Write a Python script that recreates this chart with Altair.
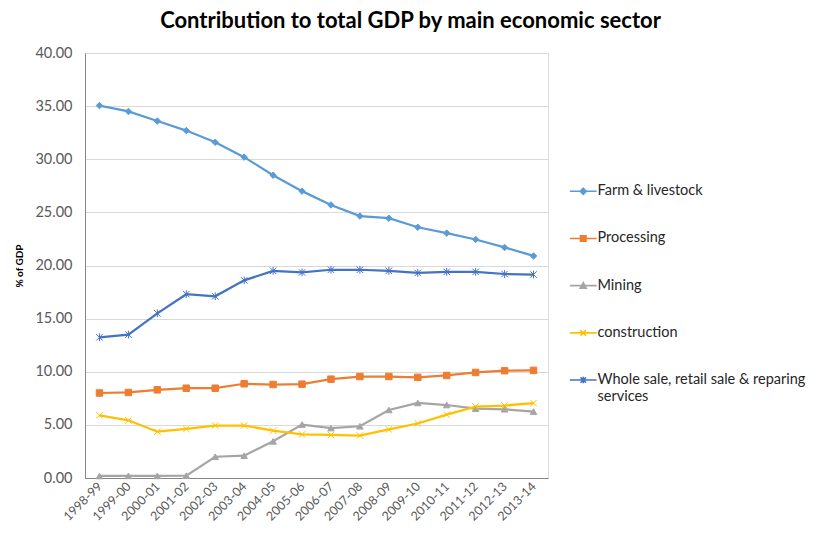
import altair as alt
import pandas as pd

years = ["1998-99", "1999-00", "2000-01", "2001-02", "2002-03", "2003-04", "2004-05", "2005-06",
         "2006-07", "2007-08", "2008-09", "2009-10", "2010-11", "2011-12", "2012-13", "2013-14"]
farm = [35.05, 34.5, 33.6, 32.7, 31.6, 30.2, 28.5, 27.0, 25.7, 24.65, 24.45, 23.6, 23.05, 22.45, 21.7, 20.9]
processing = [8.0, 8.05, 8.3, 8.45, 8.45, 8.87, 8.8, 8.83, 9.3, 9.55, 9.55, 9.47, 9.65, 9.93, 10.1, 10.13]
mining = [0.19, 0.2, 0.2, 0.22, 2.0, 2.1, 3.45, 5.03, 4.7, 4.87, 6.4, 7.06, 6.87, 6.53, 6.47, 6.25]
construction = [5.9, 5.43, 4.36, 4.62, 4.94, 4.94, 4.46, 4.1, 4.05, 4.0, 4.57, 5.13, 5.97, 6.72, 6.82, 7.05]
wholesale = [13.24, 13.5, 15.5, 17.3, 17.1, 18.6, 19.5, 19.35, 19.6, 19.6, 19.5, 19.3, 19.4, 19.4, 19.2, 19.15]

series_names = ["Farm & livestock", "Processing", "Mining", "construction",
                "Whole sale, retail sale & reparing services"]
series_values = [farm, processing, mining, construction, wholesale]
colors = ["#5B9BD5", "#ED7D31", "#A5A5A5", "#FFC000", "#4472C4"]
marker_shapes = ["diamond", "square", "triangle-up",
                 "M-1,-1L1,1M-1,1L1,-1",
                 "M-1,-1L1,1M-1,1L1,-1M0,-1.2L0,1.2"]
legend_shapes = ["M-4.9,0H4.9M0,-1.1L1.1,0L0,1.1L-1.1,0Z",
                 "M-4.9,0H4.9M-1,-1H1V1H-1Z",
                 "M-4.9,0H4.9M0,-1.1L1.1,0.9H-1.1Z",
                 "M-4.9,0H4.9M-1,-1L1,1M-1,1L1,-1",
                 "M-4.9,0H4.9M-1,-1L1,1M-1,1L1,-1M0,-1.2L0,1.2"]

rows = []
for name, vals in zip(series_names, series_values):
    for yr, v in zip(years, vals):
        rows.append({"year": yr, "series": name, "value": v})
df = pd.DataFrame(rows)

FONT = "Lato"

x_enc = alt.X("year:N", sort=years, title=None,
              axis=alt.Axis(labelAngle=-45, labelAlign="right", labelBaseline="middle",
                            ticks=False, grid=False, labelFontSize=12.5, labelPadding=6,
                            labelColor="#595959", labelFont=FONT, domainColor="#868686"))
y_enc = alt.Y("value:Q", scale=alt.Scale(domain=[0, 40]),
              axis=alt.Axis(values=[0, 5, 10, 15, 20, 25, 30, 35, 40], format=".2f",
                            title="% of GDP", titleFontSize=10, titleFontWeight="bold",
                            titleColor="#000000", titleFont=FONT, titlePadding=10,
                            labelFontSize=14.5, labelColor="#595959", labelFont=FONT,
                            ticks=False, labelPadding=13, domainColor="#868686",
                            gridColor="#D9D9D9"))

cscale = alt.Scale(domain=series_names, range=colors)

lines = alt.Chart(df).mark_line(strokeWidth=2.25).encode(
    x=x_enc, y=y_enc,
    color=alt.Color("series:N", scale=cscale, legend=None),
)

points = alt.Chart(df).mark_point(filled=True, size=42, strokeWidth=1, opacity=1).encode(
    x=x_enc, y=y_enc,
    color=alt.Color("series:N", scale=cscale, legend=None),
    stroke=alt.Stroke("series:N", scale=cscale, legend=None),
    shape=alt.Shape("series:N", scale=alt.Scale(domain=series_names, range=marker_shapes), legend=None),
)

legend_layer = alt.Chart(df).transform_filter("datum.value < -1000").mark_point(
    filled=True, opacity=1, strokeWidth=1.6
).encode(
    x=x_enc, y=y_enc,
    color=alt.Color("series:N", scale=cscale, legend=alt.Legend(
        title=None, orient="none", legendX=491, legendY=131, padding=0,
        labelFontSize=14.5, labelFont=FONT, labelColor="#262626", labelOffset=7,
        labelLimit=400, rowPadding=32.2, symbolSize=30, symbolStrokeWidth=1.6,
        symbolOpacity=1,
        labelExpr="datum.label == 'Whole sale, retail sale & reparing services' ? ['Whole sale, retail sale & reparing', 'services'] : datum.label")),
    stroke=alt.Stroke("series:N", scale=cscale),
    shape=alt.Shape("series:N", scale=alt.Scale(domain=series_names, range=legend_shapes)),
)

chart = alt.layer(lines, points, legend_layer).resolve_scale(
    color="independent", stroke="independent", shape="independent"
).properties(
    width=463, height=425,
    autosize=alt.AutoSizeParams(type="none"),
    padding={"left": 85, "top": 53, "right": 268, "bottom": 60},
    title=alt.TitleParams("Contribution to total GDP by main economic sector", fontSize=22,
                          font=FONT, fontWeight="bold", color="#000000", anchor="middle",
                          dx=94, offset=12),
).configure_view(stroke=None).configure(background="white")

chart.save("out.html", embed_options={"renderer": "svg", "actions": False})
